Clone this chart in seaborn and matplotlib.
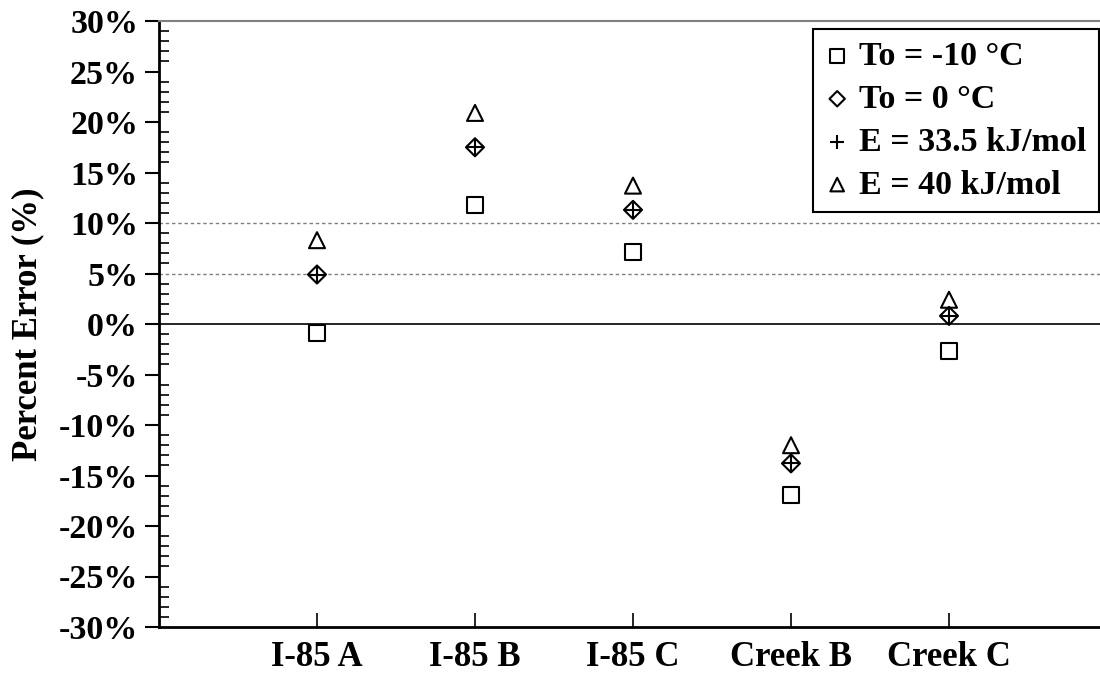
import numpy as np
import pandas as pd
import matplotlib
matplotlib.use("Agg")
import matplotlib.pyplot as plt
from matplotlib.ticker import MultipleLocator, FuncFormatter
import seaborn as sns

categories = ["I-85 A", "I-85 B", "I-85 C", "Creek B", "Creek C"]
to_minus10 = [-0.9, 11.8, 7.1, -16.9, -2.7]
to_0 = [4.9, 17.5, 11.3, -13.8, 0.8]
e_33_5 = [4.9, 17.5, 11.3, -13.8, 0.8]
e_40 = [8.3, 20.9, 13.7, -12.0, 2.4]
labels = ["To = -10 °C", "To = 0 °C", "E = 33.5 kJ/mol", "E = 40 kJ/mol"]

sns.set_theme(style="white")
plt.rcParams["font.family"] = ["Liberation Serif", "DejaVu Serif"]
plt.rcParams["font.weight"] = "bold"
for k in ["text.color", "axes.labelcolor", "xtick.color", "ytick.color", "axes.edgecolor"]:
    plt.rcParams[k] = "black"

fig = plt.figure(figsize=(11, 6.81), dpi=100)
ax = fig.add_axes([159 / 1100, 1 - 627 / 681, 1 - 159 / 1100, (627 - 21) / 681])

# reference lines
ax.axhline(10, color="#808080", lw=1.0, ls=(0, (2.5, 2)), zorder=1)
ax.axhline(5, color="#808080", lw=1.0, ls=(0, (2.5, 2)), zorder=1)
ax.axhline(0, color="black", lw=1.2, zorder=1)

series = [
    (to_minus10, "s", 11.5 ** 2, labels[0]),
    (to_0, "D", 9.2 ** 2, labels[1]),
    (e_33_5, "+", 12.5 ** 2, labels[2]),
    (e_40, "^", 11.5 ** 2, labels[3]),
]
for vals, m, s, lab in series:
    if m == "+":
        sns.scatterplot(x=categories, y=vals, marker=m, s=s, color="black",
                        linewidth=1.5, ax=ax, label=lab, zorder=3)
    else:
        sns.scatterplot(x=categories, y=vals, marker=m, s=s, facecolor="none",
                        edgecolor="black", linewidth=1.5, ax=ax, label=lab, zorder=3)

ax.set_xlim(-1, 941 / 158 - 1)
ax.set_ylim(-30, 30)

ax.yaxis.set_major_locator(MultipleLocator(5))
ax.yaxis.set_minor_locator(MultipleLocator(1))
ax.yaxis.set_major_formatter(FuncFormatter(lambda v, p: f"{v:.0f}%"))
ax.tick_params(axis="y", which="major", direction="out", length=10, width=1.5,
               color="black", labelcolor="black", labelsize=24.5, pad=5, left=True)
ax.tick_params(axis="y", which="minor", direction="in", length=7, width=1.2,
               color="black", left=True)
ax.tick_params(axis="x", which="major", direction="in", length=10, width=1.2,
               color="black", labelcolor="black", labelsize=25, pad=10, bottom=True)
for t in ax.get_xticklabels() + ax.get_yticklabels():
    t.set_fontweight("bold")

ax.set_xlabel("")
ax.set_ylabel("Percent Error (%)", fontsize=25, fontweight="bold", color="black",
              labelpad=10)

for side in ["left", "bottom"]:
    ax.spines[side].set_color("black")
    ax.spines[side].set_linewidth(2.0)
ax.spines["top"].set_color("#808080")
ax.spines["top"].set_linewidth(1.5)
ax.spines["right"].set_visible(False)
ax.grid(False)

leg = ax.legend(loc="upper right", bbox_to_anchor=(0.9985, 0.987), frameon=True,
                fancybox=False, edgecolor="black", framealpha=1,
                prop={"family": "Liberation Serif", "weight": "bold", "size": 24.5},
                markerscale=0.85, handletextpad=0.3, handlelength=0.7,
                labelspacing=0.35, borderpad=0.35, borderaxespad=0)
for t in leg.get_texts():
    t.set_color("black")
leg.get_frame().set_linewidth(1.5)

fig.savefig("out.png", dpi=100, facecolor="white")
